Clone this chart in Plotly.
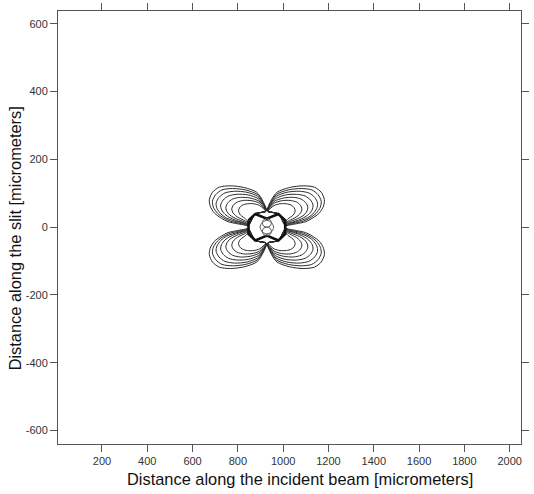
import plotly.graph_objects as go

# Axis ticks
x_tickvals = [200, 400, 600, 800, 1000, 1200, 1400, 1600, 1800, 2000]
x_ticktext = ["200", "400", "600", "800", "1000", "1200", "1400", "1600", "1800", "2000"]
y_tickvals = [600, 400, 200, 0, -200, -400, -600]
y_ticktext = ["600", "400", "200", "0", "-200", "-400", "-600"]
x_title = "Distance along the incident beam [micrometers]"
y_title = "Distance along the slit [micrometers]"

# Centre of the pattern (micrometers)
center_x = 928
center_y = 0

# Upper-right lobe contours, offsets from centre (micrometers); other lobes are mirror images
lobe1_dx = [3, 20, 45, 100, 160, 210, 240, 254, 250, 232, 200, 171, 130, 97, 82, 51, 3]
lobe1_dy = [48, 80, 103, 117, 122, 118, 103, 81, 62, 42, 26, 16, 10, 6, 4, 39, 48]
lobe2_dx = [3, 20, 43, 95, 152, 198, 226, 240, 236, 218, 190, 162, 125, 97, 82, 51, 3]
lobe2_dy = [48, 76, 97, 110, 114, 110, 96, 77, 59, 41, 27, 18, 12, 8, 5, 39, 48]
lobe3_dx = [3, 19, 41, 89, 143, 185, 211, 224, 220, 203, 178, 152, 120, 95, 82, 51, 3]
lobe3_dy = [48, 72, 91, 103, 106, 101, 88, 71, 55, 39, 27, 20, 14, 10, 6, 39, 48]
lobe4_dx = [3, 18, 38, 82, 131, 169, 193, 204, 200, 185, 163, 140, 113, 93, 82, 51, 3]
lobe4_dy = [48, 68, 84, 95, 97, 92, 80, 65, 51, 38, 28, 21, 15, 11, 7, 39, 48]
lobe5_dx = [3, 17, 35, 74, 117, 151, 172, 181, 177, 164, 145, 125, 105, 90, 82, 51, 3]
lobe5_dy = [48, 64, 77, 86, 88, 83, 72, 59, 47, 36, 28, 22, 17, 13, 8, 39, 48]
lobe6_dx = [4, 17, 33, 66, 102, 131, 148, 155, 150, 138, 122, 106, 94, 86, 82, 51, 4]
lobe6_dy = [47, 60, 71, 78, 79, 74, 65, 54, 43, 34, 27, 22, 18, 14, 9, 39, 47]
lobe7_dx = [5, 17, 32, 58, 86, 108, 121, 125, 120, 110, 98, 90, 85, 82, 51, 5]
lobe7_dy = [46, 56, 64, 69, 69, 65, 57, 48, 39, 32, 27, 22, 18, 12, 39, 46]

# Thick central contour (full shape)
ring_dx = [-81, -51, 0, 51, 81, 81, 51, 0, -51, -81, -81]
ring_dy = [20, 39, 25, 39, 20, -20, -39, -25, -39, -20, 20]

# Small inner contours (full shapes)
inner_up_dx = [0, 14, 20, 14, 0, -14, -20, -14, 0]
inner_up_dy = [25, 22, 12, 3, 0, 3, 12, 22, 25]
inner_dn_dx = [0, 14, 20, 14, 0, -14, -20, -14, 0]
inner_dn_dy = [-25, -22, -12, -3, 0, -3, -12, -22, -25]
inner_mid_dx = [-30, -20, 0, 20, 30, 20, 0, -20, -30]
inner_mid_dy = [0, 14, 20, 14, 0, -14, -20, -14, 0]

lobes = [
    (lobe1_dx, lobe1_dy), (lobe2_dx, lobe2_dy), (lobe3_dx, lobe3_dy),
    (lobe4_dx, lobe4_dy), (lobe5_dx, lobe5_dy), (lobe6_dx, lobe6_dy),
    (lobe7_dx, lobe7_dy),
]
quadrants = [(1, 1), (-1, 1), (1, -1), (-1, -1)]

line_color = "#2a2a2a"
fig = go.Figure()

for sx, sy in quadrants:
    for dx, dy in lobes:
        fig.add_trace(go.Scatter(
            x=[center_x + sx * v for v in dx],
            y=[center_y + sy * v for v in dy],
            mode="lines", line=dict(color=line_color, width=1, shape="spline", smoothing=0.8),
            hoverinfo="skip", showlegend=False,
        ))

fig.add_trace(go.Scatter(
    x=[center_x + v for v in ring_dx], y=[center_y + v for v in ring_dy],
    mode="lines", line=dict(color="#111111", width=2.6),
    hoverinfo="skip", showlegend=False,
))
for dx, dy in [(inner_up_dx, inner_up_dy), (inner_dn_dx, inner_dn_dy), (inner_mid_dx, inner_mid_dy)]:
    fig.add_trace(go.Scatter(
        x=[center_x + v for v in dx], y=[center_y + v for v in dy],
        mode="lines", line=dict(color="#555555", width=1, shape="spline", smoothing=0.8),
        hoverinfo="skip", showlegend=False,
    ))

tick_font = dict(family="Liberation Sans, Arial, sans-serif", size=11, color="#333333")
axis_common = dict(
    showline=True, linecolor="#555555", linewidth=1, mirror="ticks",
    ticks="outside", ticklen=7, tickcolor="#555555", tickwidth=1,
    showgrid=False, zeroline=False, automargin=False,
    tickfont=tick_font,
)

title_font = dict(family="Liberation Sans, Arial, sans-serif", size=16.4, color="#111111")

fig.update_layout(
    width=534, height=494,
    margin=dict(l=58, r=13, t=11, b=50),
    paper_bgcolor="white", plot_bgcolor="white",
    font=dict(family="Liberation Sans, Arial, sans-serif", color="#111111"),
    xaxis=dict(range=[6, 2050], tickmode="array", tickvals=x_tickvals, ticktext=x_ticktext,
               **axis_common),
    yaxis=dict(range=[-640, 638], tickmode="array", tickvals=y_tickvals, ticktext=y_ticktext,
               **axis_common),
    annotations=[
        dict(text=x_title, xref="paper", yref="paper", x=0.523, y=-0.081,
             xanchor="center", yanchor="middle", showarrow=False, font=title_font),
        dict(text=y_title, xref="paper", yref="paper", x=-0.094, y=0.476,
             xanchor="center", yanchor="middle", showarrow=False, textangle=-90,
             font=title_font),
    ],
)

fig.write_html("out.html", config={"displayModeBar": False},
               post_script="document.body.style.margin='0';")
